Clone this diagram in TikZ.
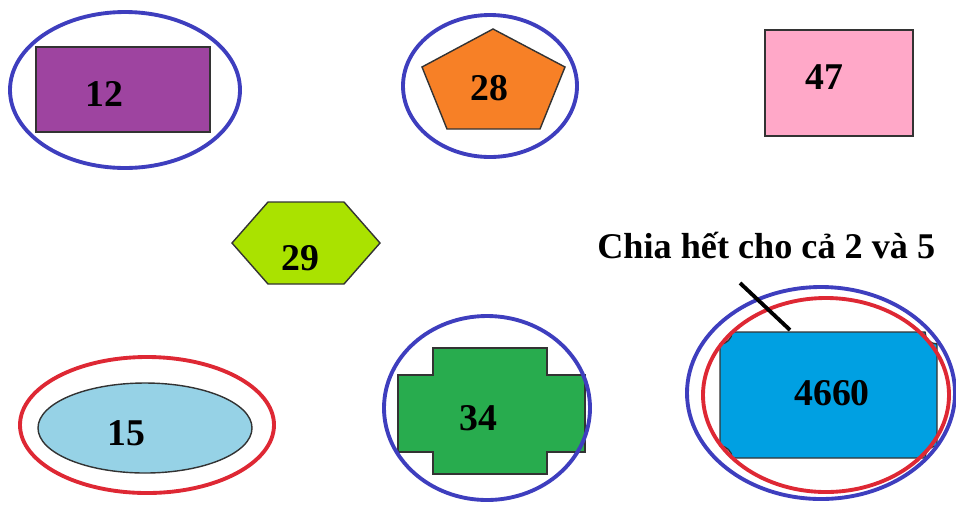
\documentclass[tikz,border=0pt]{standalone}
\usepackage{fontspec}
\setmainfont{Liberation Serif}
\definecolor{plum}{RGB}{158,68,160}
\definecolor{carrot}{RGB}{247,128,38}
\definecolor{rosy}{RGB}{255,168,200}
\definecolor{lime}{RGB}{170,226,0}
\definecolor{sky}{RGB}{150,210,230}
\definecolor{leaf}{RGB}{40,172,78}
\definecolor{ocean}{RGB}{0,160,226}
\definecolor{ringblue}{RGB}{62,62,190}
\definecolor{ringred}{RGB}{222,40,52}
\tikzset{
  num/.style={font=\fontsize{21.5}{24}\selectfont\bfseries, inner sep=0pt},
  shp/.style={draw=black!80, line width=0.8pt},
  bluering/.style={draw=ringblue, line width=2.2pt},
  redring/.style={draw=ringred, line width=2.2pt}
}
\begin{document}
\begin{tikzpicture}[x=0.02cm,y=-0.02cm]
            \useasboundingbox (0,0) rectangle (956,508);
            \filldraw[shp, fill=plum] (36,47) rectangle (210,132);
            \node[num] (twelve) at (104,94) {12};
            \draw[bluering] (125,90) ellipse [x radius=115, y radius=78];
            \filldraw[shp, fill=carrot] (493,29) -- (565,67) -- (540,129) -- (447,129) -- (422,67) -- cycle;
            \node[num] (twentyeight) at (489,88) {28};
            \draw[bluering] (490,86) ellipse [x radius=87, y radius=71];
            \filldraw[shp, fill=rosy] (765,30) rectangle (913,136);
            \node[num] (fortyseven) at (824,77) {47};
            \filldraw[shp, fill=lime] (232,243) -- (268,202) -- (344,202) -- (380,243) -- (344,284) -- (268,284) -- cycle;
            \node[num] (twentynine) at (300,258) {29};
            \filldraw[shp, fill=sky] (145,428) ellipse [x radius=107, y radius=45];
            \node[num] (fifteen) at (126,433) {15};
            \draw[redring] (147,425) ellipse [x radius=127, y radius=68];
            \filldraw[shp, fill=leaf] (433,348) -- (547,348) -- (547,375) -- (585,375) -- (585,452) -- (547,452)
                -- (547,474) -- (433,474) -- (433,452) -- (398,452) -- (398,375) -- (433,375) -- cycle;
            \node[num] (thirtyfour) at (478,418) {34};
            \draw[bluering] (487,408) ellipse [x radius=103, y radius=92];
            \filldraw[shp, fill=ocean] (732,332) -- (925,332)
                .. controls (925,338.6) and (930.4,344) .. (937,344) -- (937,446)
                .. controls (930.4,446) and (925,451.4) .. (925,458) -- (732,458)
                .. controls (732,451.4) and (726.6,446) .. (720,446) -- (720,344)
                .. controls (726.6,344) and (732,338.6) .. cycle;
            \node[num] (big) at (832,393) {4660};
            \draw[redring] (826,395) ellipse [x radius=123, y radius=97];
            \draw[bluering] (821,393) ellipse [x radius=134, y radius=106];
            \node[font=\fontsize{20.6}{24}\selectfont\bfseries, inner sep=0pt, anchor=base west] (note) at (597,258) {Chia hết cho cả 2 và 5};
            \coordinate (notefoot) at (740,283);
            \coordinate (bigtop) at (790,330);
            \draw[line width=2.2pt] (notefoot) -- (bigtop);
        \end{tikzpicture}
\end{document}
